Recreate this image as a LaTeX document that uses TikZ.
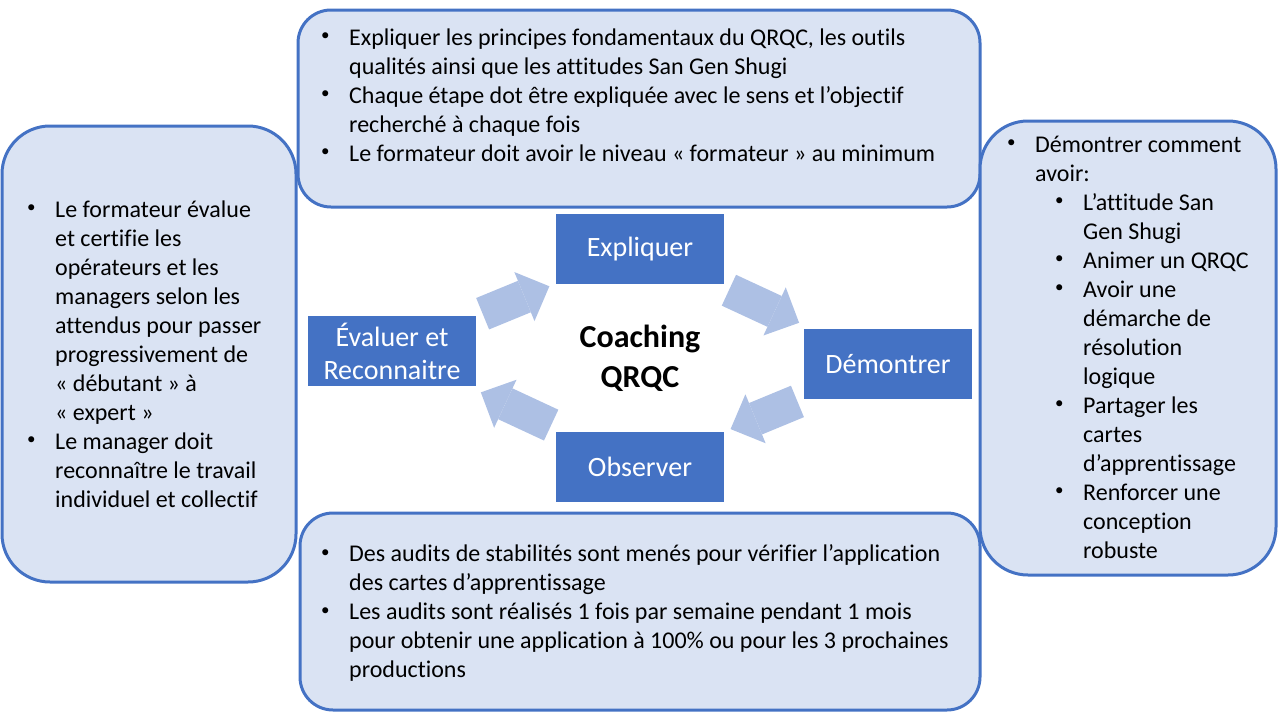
\documentclass[tikz,border=0pt]{standalone}
\usepackage{fontspec}
\setmainfont[Ligatures=NoCommon]{Carlito}
\usetikzlibrary{arrows.meta}
\definecolor{qblue}{HTML}{4472C4}
\definecolor{qpale}{HTML}{DAE3F3}
\definecolor{qarrow}{HTML}{ADC0E4}
% bullets and continuation lines
\newcommand{\bulletdot}{{\fontsize{17}{0}\selectfont\raisebox{4.5pt}{\textbullet}}}
\newcommand{\itm}[1]{\makebox[28pt][l]{\bulletdot}#1}
\newcommand{\cnt}[1]{\hspace*{28pt}#1}
\newcommand{\subitm}[1]{\hspace*{48pt}\makebox[28pt][l]{\bulletdot}#1}
\newcommand{\subcnt}[1]{\hspace*{76pt}#1}
\begin{document}
\begin{tikzpicture}[x=1pt,y=-1pt,
  infobox/.style={draw=qblue, line width=3pt, fill=qpale, rounded corners=#1, inner sep=0pt},
  bodytext/.style={anchor=west, align=left, inner sep=0pt, font=\fontsize{24}{29}\selectfont},
  phase/.style={fill=qblue, text=white, minimum width=168pt, minimum height=70pt, inner sep=0pt,
    align=center, font=\fontsize{28}{33}\selectfont},
  cycle/.style={draw=qarrow, line width=34pt, shorten <=98pt, shorten >=98pt,
    -{Triangle[length=27pt,width=53pt,line width=0pt]}}]
\useasboundingbox (0,0) rectangle (1280,720);

% text boxes
\node[infobox=33pt, minimum width=682pt, minimum height=197pt] (topbox) at (639,108.5) {};
\node[infobox=48pt, minimum width=294pt, minimum height=456pt] (leftbox) at (149,354) {};
\node[infobox=48pt, minimum width=296pt, minimum height=454pt] (rightbox) at (1128,348) {};
\node[infobox=33pt, minimum width=680pt, minimum height=197pt] (botbox) at (640,611.5) {};

\node[bodytext] (toptext) at (321,95) {\itm{Expliquer les principes fondamentaux du QRQC, les outils}\\
\cnt{qualités ainsi que les attitudes San Gen Shugi}\\
\itm{Chaque étape dot être expliquée avec le sens et l’objectif}\\
\cnt{recherché à chaque fois}\\
\itm{Le formateur doit avoir le niveau «~formateur~» au minimum}};

\node[bodytext] (lefttext) at (27,354) {\itm{Le formateur évalue}\\
\cnt{et certifie les}\\
\cnt{opérateurs et les}\\
\cnt{managers selon les}\\
\cnt{attendus pour passer}\\
\cnt{progressivement de}\\
\cnt{«~débutant~» à}\\
\cnt{«~expert~»}\\
\itm{Le manager doit}\\
\cnt{reconnaître le travail}\\
\cnt{individuel et collectif}};

\node[bodytext] (righttext) at (1007,347) {\itm{Démontrer comment}\\
\cnt{avoir:}\\
\subitm{L’attitude San}\\
\subcnt{Gen Shugi}\\
\subitm{Animer un QRQC}\\
\subitm{Avoir une}\\
\subcnt{démarche de}\\
\subcnt{résolution}\\
\subcnt{logique}\\
\subitm{Partager les}\\
\subcnt{cartes}\\
\subcnt{d’apprentissage}\\
\subitm{Renforcer une}\\
\subcnt{conception}\\
\subcnt{robuste}};

\node[bodytext] (bottext) at (321,613) {\itm{Des audits de stabilités sont menés pour vérifier l’application}\\
\cnt{des cartes d’apprentissage}\\
\itm{Les audits sont réalisés 1 fois par semaine pendant 1 mois}\\
\cnt{pour obtenir une application à 100\% ou pour les 3 prochaines}\\
\cnt{productions}};

% cycle
\node[phase] (expl) at (640,249) {Expliquer};
\node[phase] (demo) at (888,364) {Démontrer};
\node[phase] (obs) at (640,466.5) {Observer};
\node[phase] (eval) at (392,351) {Évaluer et\\Reconnaitre};
\node[align=center, inner sep=0pt, font=\fontsize{32}{40}\selectfont\bfseries] (coach) at (640,358) {Coaching\\QRQC};

\draw[cycle] (eval.center) -- (expl.center);
\draw[cycle] (expl.center) -- (demo.center);
\draw[cycle] (demo.center) -- (obs.center);
\draw[cycle] (obs.center) -- (eval.center);
\end{tikzpicture}
\end{document}
